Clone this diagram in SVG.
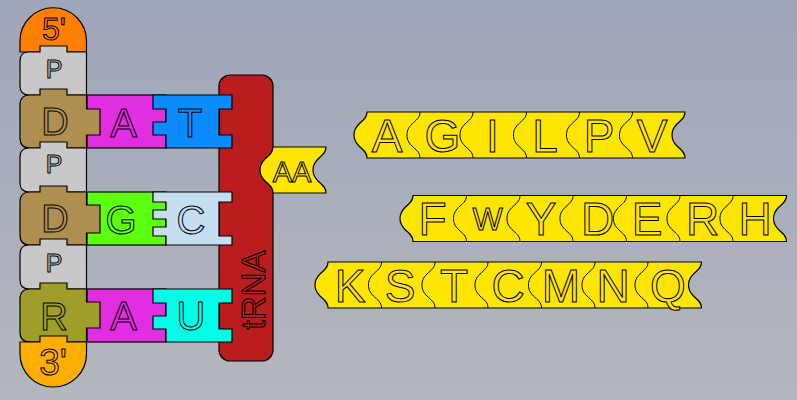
<svg xmlns="http://www.w3.org/2000/svg" width="797" height="400" viewBox="0 0 797 400">
<defs>
<linearGradient id="bg" x1="0" y1="0" x2="0" y2="1">
<stop offset="0" stop-color="#9ea6b9"/>
<stop offset="1" stop-color="#b4b7bd"/>
</linearGradient>
</defs>
<style>
.o{stroke:#000;stroke-width:1.2;stroke-linejoin:miter}
.ln{fill:none;stroke:#000;stroke-width:1}
.t{font-family:"Liberation Sans",Arial,sans-serif;stroke:#000;stroke-width:1;text-anchor:middle}
.y{fill:#ffe600}
</style>
<rect width="797" height="400" fill="url(#bg)"/>
<g id="connectors"/>
<g id="trna">
<rect class="o" x="219" y="75" width="54" height="286" rx="11" fill="#b81c1c"/>
<text class="t" font-size="33" fill="#b81c1c" transform="translate(265,290) rotate(-90)">tRNA</text>
</g>
<g id="codon-A1">
<rect class="o" x="87" y="95" width="79" height="53" fill="#e02ee0"/>
<text class="t" x="123.5" y="137" font-size="40" fill="#e02ee0">A</text>
</g>
<g id="codon-G">
<rect class="o" x="87" y="192" width="79" height="53" fill="#5cff10"/>
<text class="t" x="121" y="234" font-size="40" fill="#5cff10">G</text>
</g>
<g id="codon-A3">
<rect class="o" x="87" y="289" width="79" height="53" fill="#e02ee0"/>
<text class="t" x="123.5" y="330" font-size="40" fill="#e02ee0">A</text>
</g>
<g id="anticodon-T">
<path class="o" fill="#0a8cff" d="M153,95 H232 V109 H219 V135 H232 V148 H166 V135 H153 V122 H166 V109 H153 Z"/>
<text class="t" x="190" y="137" font-size="40" fill="#0a8cff">T</text>
</g>
<g id="anticodon-C">
<path class="o" fill="#c6dff0" d="M153,192 H232 V202 H219 V236 H232 V245 H166 V236 H153 V227 H166 V219 H153 V210 H166 V202 H153 Z"/>
<text class="t" x="191" y="234" font-size="40" fill="#c6dff0">C</text>
</g>
<g id="anticodon-U">
<path class="o" fill="#00ffe6" d="M153,289 H232 V303 H219 V329 H232 V342 H166 V329 H153 V316 H166 V303 H153 Z"/>
<text class="t" x="191" y="330" font-size="40" fill="#00ffe6">U</text>
</g>
<g id="cap5">
<path class="o" fill="#ff8000" d="M20,52 V41 A33,33 0 0 1 86.5,41 V52 Z"/>
<text class="t" x="54" y="40" font-size="32" fill="#ff8000">5'</text>
</g>
<g id="p1">
<path class="o" fill="#c8c8c8" d="M29,52 H40 V46 H67 V52 H86.5 V95 H29 Q20,95 20,86 V61 Q20,52 29,52 Z"/>
<text class="t" x="54" y="78" font-size="25" fill="#c8c8c8">P</text>
</g>
<g id="d1">
<path class="o" fill="#ae8f4f" d="M30,95 H40 V89 H67 V95 H86.5 V109 H100 V135 H86.5 V148 H30 Q20,148 20,138 V105 Q20,95 30,95 Z"/>
<text class="t" x="55" y="135" font-size="38" fill="#ae8f4f">D</text>
</g>
<g id="p2">
<path class="o" fill="#c8c8c8" d="M29,148 H40 V142 H67 V148 H86.5 V192 H29 Q20,192 20,183 V157 Q20,148 29,148 Z"/>
<text class="t" x="54" y="173" font-size="25" fill="#c8c8c8">P</text>
</g>
<g id="d2">
<path class="o" fill="#ae8f4f" d="M30,192 H40 V186 H67 V192 H86.5 V205 H100 V233 H86.5 V245 H30 Q20,245 20,235 V202 Q20,192 30,192 Z"/>
<text class="t" x="55" y="232" font-size="38" fill="#ae8f4f">D</text>
</g>
<g id="p3">
<path class="o" fill="#c8c8c8" d="M29,245 H40 V239 H67 V245 H86.5 V289 H29 Q20,289 20,280 V254 Q20,245 29,245 Z"/>
<text class="t" x="54" y="272" font-size="25" fill="#c8c8c8">P</text>
</g>
<g id="r">
<path class="o" fill="#9e9e28" d="M30,289 H40 V283 H67 V289 H86.5 V302 H100 V328 H86.5 V342 H30 Q20,342 20,332 V299 Q20,289 30,289 Z"/>
<text class="t" x="54" y="330" font-size="38" fill="#9e9e28">R</text>
</g>
<g id="cap3">
<path class="o" fill="#ffae00" d="M20,342 H40 V336 H67 V342 H86.5 V354 A33.25,33 0 0 1 20,354 Z"/>
<text class="t" x="53" y="375" font-size="37" fill="#ffae00">3'</text>
</g>
<g id="aa">
<path class="o y" d="M273,147 H326 c0,6 -4,8 -8,12 c-4,4 -5,7 -5,11 c0,4 1,7 5,11 c4,4 8,6 8,12 H273 c0,-6 -4,-8 -8,-12 c-4,-4 -5,-7 -5,-11 c0,-4 1,-7 5,-11 c4,-4 8,-6 8,-12 Z"/>
<text class="t y" x="292" y="182" font-size="29">AA</text>
</g>
<g id="chain1">
<path class="o y" d="M367,112 H685 c0,6 -4,8 -8,12 c-4,4 -5,7 -5,11 c0,4 1,7 5,11 c4,4 8,6 8,12 H367 c0,-6 -4,-8 -8,-12 c-4,-4 -5,-7 -5,-11 c0,-4 1,-7 5,-11 c4,-4 8,-6 8,-12 Z"/>
<path class="ln" d="M420,112 c0,6 -4,8 -8,12 c-4,4 -5,7 -5,11 c0,4 1,7 5,11 c4,4 8,6 8,12 M473,112 c0,6 -4,8 -8,12 c-4,4 -5,7 -5,11 c0,4 1,7 5,11 c4,4 8,6 8,12 M526.5,112 c0,6 -4,8 -8,12 c-4,4 -5,7 -5,11 c0,4 1,7 5,11 c4,4 8,6 8,12 M579.5,112 c0,6 -4,8 -8,12 c-4,4 -5,7 -5,11 c0,4 1,7 5,11 c4,4 8,6 8,12 M632.5,112 c0,6 -4,8 -8,12 c-4,4 -5,7 -5,11 c0,4 1,7 5,11 c4,4 8,6 8,12"/>
<text class="t y" y="152" font-size="46"><tspan x="387">A</tspan><tspan x="442.5">G</tspan><tspan x="492.5">I</tspan><tspan x="545">L</tspan><tspan x="599">P</tspan><tspan x="652">V</tspan></text>
</g>
<g id="chain2">
<path class="o y" d="M413,195.5 H786.5 c0,6 -4,8 -8,12 c-4,4 -5,7 -5,11 c0,4 1,7 5,11 c4,4 8,6 8,12 H413 c0,-6 -4,-8 -8,-12 c-4,-4 -5,-7 -5,-11 c0,-4 1,-7 5,-11 c4,-4 8,-6 8,-12 Z"/>
<path class="ln" d="M466.5,195.5 c0,6 -4,8 -8,12 c-4,4 -5,7 -5,11 c0,4 1,7 5,11 c4,4 8,6 8,12 M520,195.5 c0,6 -4,8 -8,12 c-4,4 -5,7 -5,11 c0,4 1,7 5,11 c4,4 8,6 8,12 M573,195.5 c0,6 -4,8 -8,12 c-4,4 -5,7 -5,11 c0,4 1,7 5,11 c4,4 8,6 8,12 M626.5,195.5 c0,6 -4,8 -8,12 c-4,4 -5,7 -5,11 c0,4 1,7 5,11 c4,4 8,6 8,12 M680,195.5 c0,6 -4,8 -8,12 c-4,4 -5,7 -5,11 c0,4 1,7 5,11 c4,4 8,6 8,12 M733,195.5 c0,6 -4,8 -8,12 c-4,4 -5,7 -5,11 c0,4 1,7 5,11 c4,4 8,6 8,12"/>
<text class="t y" y="235" font-size="46"><tspan x="432.5">F</tspan><tspan x="487.5" font-size="32" dy="-5">W</tspan><tspan x="541" dy="5">Y</tspan><tspan x="597.5">D</tspan><tspan x="647">E</tspan><tspan x="702.5">R</tspan><tspan x="755">H</tspan></text>
</g>
<g id="chain3">
<path class="o y" d="M328,262 H701.5 c0,6 -4,8 -8,12 c-4,4 -5,7 -5,11 c0,4 1,7 5,11 c4,4 8,6 8,12 H328 c0,-6 -4,-8 -8,-12 c-4,-4 -5,-7 -5,-11 c0,-4 1,-7 5,-11 c4,-4 8,-6 8,-12 Z"/>
<path class="ln" d="M381.5,262 c0,6 -4,8 -8,12 c-4,4 -5,7 -5,11 c0,4 1,7 5,11 c4,4 8,6 8,12 M435,262 c0,6 -4,8 -8,12 c-4,4 -5,7 -5,11 c0,4 1,7 5,11 c4,4 8,6 8,12 M488,262 c0,6 -4,8 -8,12 c-4,4 -5,7 -5,11 c0,4 1,7 5,11 c4,4 8,6 8,12 M541.5,262 c0,6 -4,8 -8,12 c-4,4 -5,7 -5,11 c0,4 1,7 5,11 c4,4 8,6 8,12 M595,262 c0,6 -4,8 -8,12 c-4,4 -5,7 -5,11 c0,4 1,7 5,11 c4,4 8,6 8,12 M648,262 c0,6 -4,8 -8,12 c-4,4 -5,7 -5,11 c0,4 1,7 5,11 c4,4 8,6 8,12"/>
<text class="t y" y="302" font-size="46"><tspan x="350">K</tspan><tspan x="400">S</tspan><tspan x="454">T</tspan><tspan x="508">C</tspan><tspan x="561">M</tspan><tspan x="613">N</tspan><tspan x="668">Q</tspan></text>
</g>
</svg>
